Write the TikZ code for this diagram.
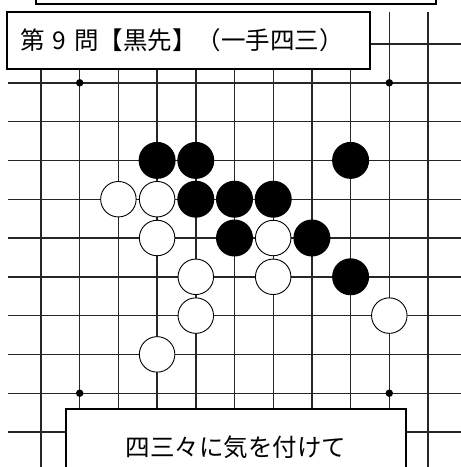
\documentclass[tikz,border=0pt]{standalone}
\usepackage{fontspec}
\newfontfamily\jpfont{Noto Sans CJK JP}
\usetikzlibrary{positioning}

\begin{document}
\begin{tikzpicture}[x=1pt, y=-1pt,
    gridline/.style={line width=1.4pt, black!85},
    blackstone/.style={circle, fill=black, minimum size=37pt, inner sep=0pt},
    whitestone/.style={circle, draw, fill=white, line width=0.9pt, minimum size=35.5pt, inner sep=0pt},
    star/.style={circle, fill=black, minimum size=7.5pt, inner sep=0pt},
    textbox/.style={rectangle, draw, fill=white, line width=2pt, inner sep=0pt, font=\jpfont\fontsize{24.5}{29}\selectfont}]

    \useasboundingbox (0,0) rectangle (461,467);
    \fill[white] (0,0) rectangle (461,467);

    \begin{scope}[shift={(41,44)}, x=38.7pt, y=-38.8pt]
    % Board
    \foreach \i in {0,...,10} {
        \draw[gridline] (\i,-0.83) -- (\i,10.9);
        \draw[gridline] (-0.85,\i) -- (10.9,\i);
    }
    \node[star] (s1) at (1,1) {};
    \node[star] (s2) at (9,1) {};
    \node[star] (s3) at (1,9) {};
    \node[star] (s4) at (9,9) {};

    % Black stones
    \node[blackstone] (b1) at (3,3) {};
    \node[blackstone] (b2) at (4,3) {};
    \node[blackstone] (b3) at (8,3) {};
    \node[blackstone] (b4) at (4,4) {};
    \node[blackstone] (b5) at (5,4) {};
    \node[blackstone] (b6) at (6,4) {};
    \node[blackstone] (b7) at (5,5) {};
    \node[blackstone] (b8) at (7,5) {};
    \node[blackstone] (b9) at (8,6) {};

    % White stones
    \node[whitestone] (w1) at (2,4) {};
    \node[whitestone] (w2) at (3,4) {};
    \node[whitestone] (w3) at (3,5) {};
    \node[whitestone] (w4) at (6,5) {};
    \node[whitestone] (w5) at (4,6) {};
    \node[whitestone] (w6) at (6,6) {};
    \node[whitestone] (w7) at (4,7) {};
    \node[whitestone] (w8) at (9,7) {};
    \node[whitestone] (w9) at (3,8) {};
    \end{scope}

    % Captions
    \node[textbox, minimum width=400pt, minimum height=16pt] (topbox) at (236,-4) {};
    \node[textbox, text width=337pt, inner xsep=13pt, align=left, minimum height=57pt] (title) at (188.5,40.5) {第 9 問【黒先】（一手四三）};
    \node[textbox, minimum width=340pt, minimum height=76pt] (hint) at (236,447) {四三々に気を付けて};

\end{tikzpicture}
\end{document}
